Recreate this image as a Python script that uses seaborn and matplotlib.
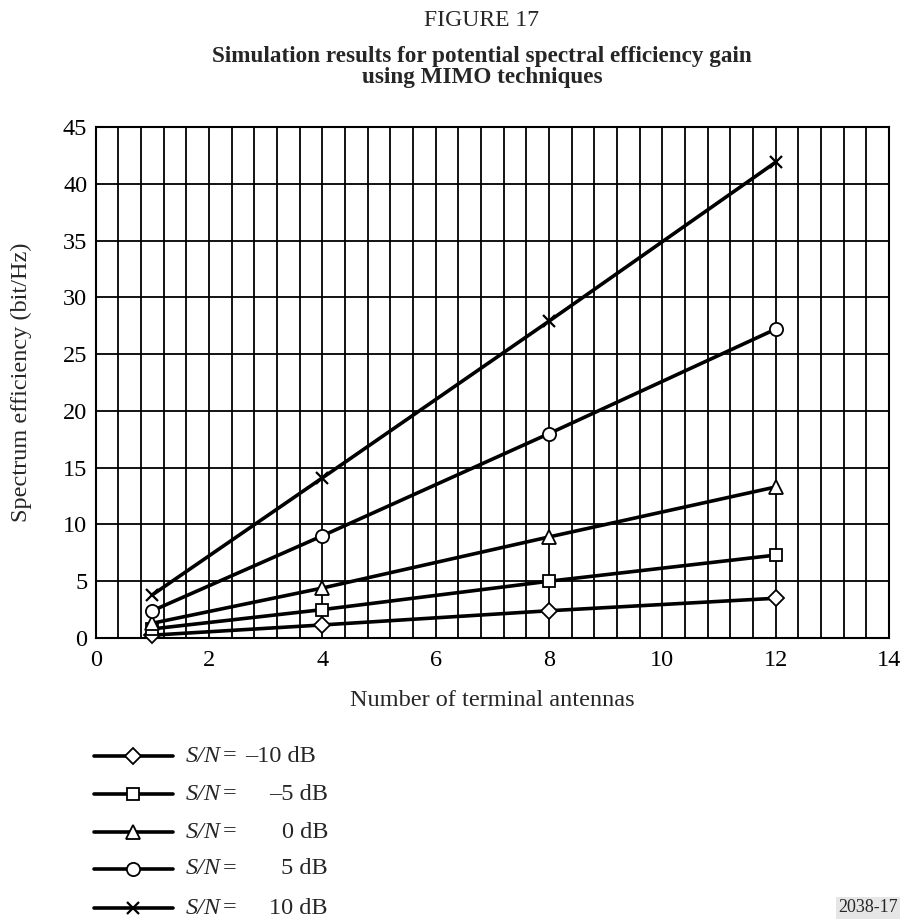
import numpy as np
import pandas as pd
import matplotlib
matplotlib.use("Agg")
import matplotlib.pyplot as plt
import seaborn as sns
from matplotlib.ticker import MultipleLocator
from matplotlib.lines import Line2D

# ---- data ----
antennas = [1, 4, 8, 12]
snr_values = ["\u201310 dB", "\u20135 dB", "0 dB", "5 dB", "10 dB"]
se_m10 = [0.25, 1.15, 2.4, 3.5]
se_m5 = [0.8, 2.5, 5.0, 7.3]
se_0 = [1.3, 4.4, 8.9, 13.3]
se_5 = [2.4, 9.0, 18.0, 27.2]
se_10 = [3.8, 14.1, 27.9, 41.9]
series = [se_m10, se_m5, se_0, se_5, se_10]
marker_list = ["D", "s", "^", "o", "x"]
x_ticks = [0, 2, 4, 6, 8, 10, 12, 14]
y_ticks = [0, 5, 10, 15, 20, 25, 30, 35, 40, 45]

sns.set_style("white")
plt.rcParams["font.family"] = ["Liberation Serif", "DejaVu Serif"]

W, H = 903, 919
fig = plt.figure(figsize=(W / 100, H / 100), dpi=100)

def fx(px):
    return px / W

def fy(py):
    return 1 - py / H

FS = 17.5
ax_l, ax_r, ax_t, ax_b = 95.7, 889.0, 127.0, 638.0
ax = fig.add_axes([fx(ax_l), fy(ax_b), (ax_r - ax_l) / W, (ax_b - ax_t) / H])

marker_sizes = {"D": 8.5, "s": 9, "^": 9.5, "o": 9.5, "x": 8.5}
for lab, vals, mk in zip(snr_values, series, marker_list):
    d = pd.DataFrame({"antennas": antennas, "se": vals})
    sns.lineplot(data=d, x="antennas", y="se", color="black", linewidth=2.6,
                 marker=mk, markersize=marker_sizes[mk],
                 markerfacecolor="white", markeredgecolor="black",
                 markeredgewidth=1.3 if mk != "x" else 1.6,
                 ax=ax, sort=False, zorder=3, label=lab, legend=False,
                 clip_on=False)

ax.set_xlim(0, 14)
ax.set_ylim(0, 45)
ax.set_xticks(x_ticks)
ax.set_yticks(y_ticks)
ax.xaxis.set_minor_locator(MultipleLocator(0.4))
ax.set_axisbelow(True)
ax.grid(True, which="major", axis="both", color="black", linewidth=1.3)
ax.grid(True, which="minor", axis="x", color="black", linewidth=1.3)
ax.tick_params(axis="both", which="both", length=0, labelsize=FS, colors="black")
ax.tick_params(axis="x", pad=9)
ax.tick_params(axis="y", pad=6)
for s in ax.spines.values():
    s.set_color("black")
    s.set_linewidth(1.5)
if ax.get_legend() is not None:
    ax.get_legend().remove()

ax.set_xlabel("Number of terminal antennas", fontsize=FS)
ax.set_ylabel("Spectrum efficiency (bit/Hz)", fontsize=FS)
ax.xaxis.set_label_coords(0.5, (ax_b - 690) / (ax_b - ax_t))
ax.yaxis.set_label_coords((32 - ax_l) / (ax_r - ax_l), 0.5)

# titles
fig.text(fx(482), fy(21), "FIGURE 17", ha="center", va="center", fontsize=17)
fig.text(fx(482), fy(67),
         "Simulation results for potential spectral efficiency gain\nusing MIMO techniques",
         ha="center", va="center", fontsize=16.7, fontweight="bold",
         linespacing=1.0, multialignment="center")

# legend (drawn manually to keep the aligned number layout)
row_y = [756, 794, 832, 869, 908]
for i, (lab, mk) in enumerate(zip(snr_values, marker_list)):
    y = fy(row_y[i])
    fig.add_artist(Line2D([fx(94), fx(173)], [y, y], transform=fig.transFigure,
                          color="black", linewidth=2.6))
    fig.add_artist(Line2D([fx(133)], [y], transform=fig.transFigure,
                          marker=mk, markersize=marker_sizes[mk],
                          markerfacecolor="white", markeredgecolor="black",
                          markeredgewidth=1.3 if mk != "x" else 1.6,
                          linestyle="none"))
    fig.text(fx(186), y, "S/N", style="italic", ha="left", va="center", fontsize=FS)
    fig.text(fx(223), y, "=", ha="left", va="center", fontsize=FS)
    if i == 0:
        fig.text(fx(245), y, lab, ha="left", va="center", fontsize=FS)
    else:
        fig.text(fx(328), y, lab, ha="right", va="center", fontsize=FS)

fig.text(fx(868), fy(908), "2038-17", ha="center", va="center", fontsize=13,
         bbox=dict(facecolor="#e6e6e6", edgecolor="none", pad=1.5))

fig.savefig("out.png", dpi=100)
